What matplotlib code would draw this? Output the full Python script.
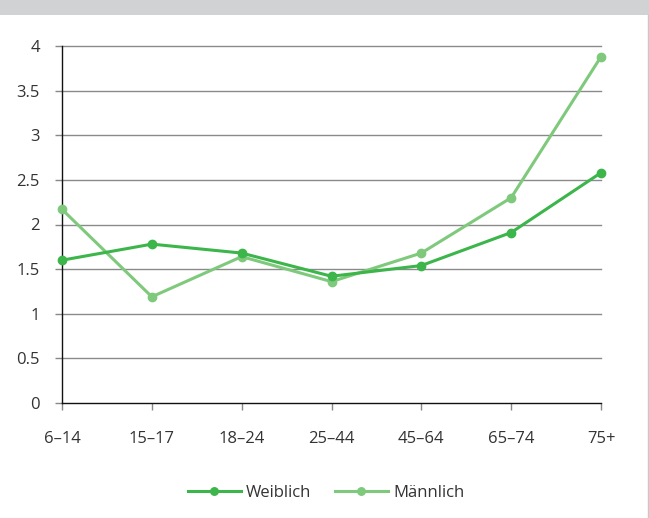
import matplotlib
matplotlib.use("Agg")
import matplotlib.pyplot as plt
from matplotlib.patches import Rectangle
from matplotlib.lines import Line2D

plt.rcParams['font.family'] = ['Open Sans', 'DejaVu Sans']

# data
age_groups = ["6–14", "15–17", "18–24", "25–44", "45–64", "65–74", "75+"]
weiblich = [1.60, 1.78, 1.68, 1.42, 1.54, 1.91, 2.58]
maennlich = [2.17, 1.19, 1.64, 1.36, 1.68, 2.30, 3.88]
y_ticks = [0, 0.5, 1, 1.5, 2, 2.5, 3, 3.5, 4]
y_labels = ["0", "0.5", "1", "1.5", "2", "2.5", "3", "3.5", "4"]

DARK = '#3cb54a'
LIGHT = '#7fc97c'
TXT = '#333333'

W, H = 649, 518
fig = plt.figure(figsize=(W / 100, H / 100), dpi=100)

# gray header band + right border
fig.patches.append(Rectangle((0, 1 - 15 / H), 1, 15 / H, transform=fig.transFigure,
                             facecolor='#d1d2d4', edgecolor='none', zorder=0))
fig.add_artist(Line2D([647.5 / W, 647.5 / W], [0, 1 - 15 / H], color='#c8c8c8', lw=1))

ax = fig.add_axes([62 / W, (H - 403) / H, (601 - 62) / W, (403 - 46) / H])

x = range(len(age_groups))
ax.plot(x, weiblich, color=DARK, lw=2.2, marker='o', ms=6, label='Weiblich', zorder=4)
ax.plot(x, maennlich, color=LIGHT, lw=2.2, marker='o', ms=6, label='Männlich', zorder=3)

ax.set_xlim(0, len(age_groups) - 1)
ax.set_ylim(0, 4)
ax.set_yticks(y_ticks)
ax.set_yticklabels(y_labels)
ax.set_xticks(list(x))
ax.set_xticklabels(age_groups)

for yv in y_ticks[1:]:
    ax.axhline(yv, color='#8a8a8a', lw=1, zorder=1)

for s in ['top', 'right']:
    ax.spines[s].set_visible(False)
for s in ['left', 'bottom']:
    ax.spines[s].set_color('#111111')
    ax.spines[s].set_linewidth(1)

ax.tick_params(axis='y', length=5, width=1, color='#888888', labelsize=12, labelcolor=TXT, pad=11)
ax.tick_params(axis='x', length=5, width=1, color='#888888', labelsize=12, labelcolor=TXT, pad=15)
for ln in ax.lines:
    ln.set_clip_on(False)

leg = fig.legend(loc='center', bbox_to_anchor=(326 / W, 1 - 493 / H), ncol=2, frameon=False,
                 fontsize=12, handlelength=3.2, columnspacing=1.4, handletextpad=0.3,
                 labelcolor=TXT, markerscale=0.9)

fig.savefig('out.png', dpi=100)
